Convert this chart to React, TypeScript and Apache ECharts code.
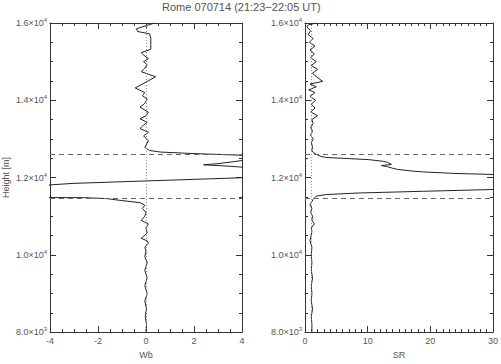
import React, { useEffect, useRef } from "react";
import * as echarts from "echarts";

const titleText = "Rome 070714 (21:23\u221222:05 UT)";

// Left panel: Wb profile (height [m], Wb)
const wbHeights = [
  16000, 15930, 15850, 15780, 15720, 15600, 15450, 15320, 15230, 15170, 15080, 15000,
  14920, 14830, 14740, 14610, 14470, 14320, 14200, 14120, 14030, 13920, 13820, 13690,
  13600, 13520, 13430, 13360, 13270, 13170, 13080, 12950, 12780, 12700, 12660, 12620,
  12580, 12560, 12500, 12440, 12360, 12330, 12300, 12270, 12230, 12100, 11995, 11850,
  11810, 11780, 11600, 11500, 11482, 11480, 11455, 11410, 11350, 11285, 11200, 11100,
  11000, 10890, 10800, 10700, 10560, 10430, 10360, 10300, 10200, 10100, 9950, 9800,
  9600, 9400, 9200, 9000, 8800, 8600, 8400, 8200, 8000,
];
const wbValues = [
  0.35, 0.0, -0.4, -0.35, 0.15, 0.2, 0.2, 0.2, -0.2, -0.1, 0.1, -0.1,
  0.05, -0.05, -0.2, 0.4, 0.0, -0.45, -0.05, -0.15, 0.05, -0.05, -0.25, 0.1,
  0.0, -0.25, 0.05, -0.1, -0.25, 0.1, -0.1, 0.1, -0.05, 0.15, 0.6, 2.0,
  3.9, 5.5, 6.0, 4.0, 3.0, 2.4, 3.3, 4.0, 5.0, 6.0, 4.0, -3.0,
  -4.0, -5.0, -5.5, -4.5, -4.2, -2.6, -1.64, -1.08, -0.25, -0.05, -0.15, 0.0,
  -0.05, -0.2, 0.1, 0.0, 0.05, -0.2, 0.05, 0.1, -0.05, 0.0, -0.05, 0.05,
  -0.05, 0.05, -0.05, 0.05, -0.05, 0.02, -0.03, 0.02, 0.0,
];

// Right panel: SR profile (height [m], SR)
const srHeights = [
  16000, 15950, 15900, 15800, 15700, 15600, 15500, 15400, 15300, 15200, 15100, 15000,
  14900, 14800, 14700, 14600, 14490, 14420, 14350, 14270, 14200, 14100, 14000, 13900,
  13800, 13700, 13600, 13500, 13400, 13300, 13200, 13100, 13000, 12900, 12800, 12700,
  12650, 12600, 12550, 12520, 12490, 12465, 12420, 12390, 12340, 12310, 12280, 12240,
  12210, 12170, 12145, 12105, 12080, 12050, 11700, 11690, 11645, 11600, 11560, 11520,
  11435, 11350, 11300, 11200, 11100, 11000, 10900, 10800, 10700, 10600, 10360, 10200,
  10000, 9800, 9600, 9400, 9200, 9000, 8800, 8600, 8400, 8200, 8000,
];
const srValues = [
  1.8, 0.5, 0.3, 0.9, 0.5, 1.3, 0.7, 1.6, 0.8, 1.5, 0.9, 1.8,
  1.0, 2.0, 1.2, 1.9, 2.8, 0.8, 1.8, 0.6, 1.6, 0.8, 1.7, 1.0,
  1.6, 0.9, 2.0, 1.1, 1.3, 0.9, 1.2, 0.9, 1.3, 1.0, 1.2, 1.1,
  1.3, 1.8, 2.5, 3.4, 7.0, 10.1, 12.5, 13.2, 13.8, 12.2, 13.2, 14.0,
  14.8, 17.0, 18.9, 24.1, 30.0, 35.0, 35.0, 30.0, 18.9, 8.5, 3.4, 1.8,
  1.3, 1.0, 0.8, 1.1, 0.9, 1.2, 1.1, 1.5, 1.0, 1.1, 0.8, 1.1,
  1.0, 1.1, 1.0, 1.2, 1.0, 1.1, 1.0, 1.2, 1.0, 1.1, 1.1,
];

const layerBounds = [12600, 11470];
const wbRef = 0;
const srRef = 1;

const FONT = "Liberation Sans, Arial, sans-serif";
const AXIS_COLOR = "#333";
const TEXT_COLOR = "#555";

function yLabel(v: number) {
  const exp = Math.floor(Math.log10(v));
  const m = (v / Math.pow(10, exp)).toFixed(1);
  return `{b|${m}\u00d710}{s|${exp}}`;
}

const yRich = {
  b: { fontSize: 9, color: TEXT_COLOR, fontFamily: FONT },
  s: { fontSize: 6, color: TEXT_COLOR, fontFamily: FONT, padding: [0, 0, 6, 0] },
};

function xAxisCfg(grid: number, min: number, max: number, interval: number, minorSplit: number, pos: string, name: string) {
  const isMain = pos === "bottom";
  return {
    type: "value",
    gridIndex: grid,
    position: pos,
    min,
    max,
    interval,
    name: isMain ? name : "",
    nameLocation: "middle",
    nameGap: 15,
    nameTextStyle: { fontSize: 9, color: TEXT_COLOR, fontFamily: FONT },
    axisLine: { show: true, onZero: false, lineStyle: { color: AXIS_COLOR, width: 1 } },
    axisTick: { show: true, inside: true, length: 6, lineStyle: { color: AXIS_COLOR } },
    minorTick: { show: true, splitNumber: minorSplit, length: 3, lineStyle: { color: AXIS_COLOR } },
    axisLabel: { show: isMain, fontSize: 9, color: TEXT_COLOR, fontFamily: FONT, margin: 4 },
    splitLine: { show: false },
    minorSplitLine: { show: false },
  };
}

function yAxisCfg(grid: number, pos: string, withName: boolean) {
  const isMain = pos === "left";
  return {
    type: "value",
    gridIndex: grid,
    position: pos,
    min: 8000,
    max: 16000,
    interval: 2000,
    name: withName ? "Height [m]" : "",
    nameLocation: "middle",
    nameGap: 40,
    nameRotate: 90,
    nameTextStyle: { fontSize: 9, color: TEXT_COLOR, fontFamily: FONT },
    axisLine: { show: true, onZero: false, lineStyle: { color: AXIS_COLOR, width: 1 } },
    axisTick: { show: true, inside: true, length: 6, lineStyle: { color: AXIS_COLOR } },
    minorTick: { show: true, splitNumber: 4, length: 3, lineStyle: { color: AXIS_COLOR } },
    axisLabel: { show: isMain, formatter: yLabel, rich: yRich, margin: 3 },
    splitLine: { show: false },
    minorSplitLine: { show: false },
  };
}

function markLineCfg(refAxis: "xAxis", refValue: number) {
  return {
    silent: true,
    symbol: "none",
    label: { show: false },
    animation: false,
    data: [
      { yAxis: layerBounds[0], lineStyle: { color: "#666", type: [5, 4], width: 1 } },
      { yAxis: layerBounds[1], lineStyle: { color: "#666", type: [5, 4], width: 1 } },
      { [refAxis]: refValue, lineStyle: { color: "#888", type: [1, 2], width: 1 } },
    ],
  };
}

export default function App() {
  const ref = useRef<HTMLDivElement>(null);
  useEffect(() => {
    if (!ref.current) return;
    const chart = echarts.init(ref.current, null, { renderer: "svg" });
    const wbData = wbHeights.map((h, i) => [wbValues[i], h]);
    const srData = srHeights.map((h, i) => [srValues[i], h]);
    chart.setOption({
      animation: false,
      backgroundColor: "#fff",
      textStyle: { fontFamily: FONT },
      title: {
        text: titleText,
        left: 162,
        top: 0,
        padding: [1, 0, 0, 0],
        textStyle: { fontSize: 11, fontWeight: "normal", color: TEXT_COLOR, fontFamily: FONT },
      },
      grid: [
        { left: 50, top: 23, width: 192, height: 319 },
        { left: 305, top: 23, width: 193, height: 319 },
      ],
      xAxis: [
        xAxisCfg(0, -4, 4, 2, 4, "bottom", "Wb"),
        xAxisCfg(0, -4, 4, 2, 4, "top", ""),
        xAxisCfg(1, 0, 30, 10, 10, "bottom", "SR"),
        xAxisCfg(1, 0, 30, 10, 10, "top", ""),
      ],
      yAxis: [
        yAxisCfg(0, "left", true),
        yAxisCfg(0, "right", false),
        yAxisCfg(1, "left", false),
        yAxisCfg(1, "right", false),
      ],
      series: [
        {
          type: "line",
          xAxisIndex: 0,
          yAxisIndex: 0,
          data: wbData,
          showSymbol: false,
          clip: true,
          lineStyle: { color: "#222", width: 1 },
          markLine: markLineCfg("xAxis", wbRef),
        },
        {
          type: "line",
          xAxisIndex: 2,
          yAxisIndex: 2,
          data: srData,
          showSymbol: false,
          clip: true,
          lineStyle: { color: "#222", width: 1 },
          markLine: markLineCfg("xAxis", srRef),
        },
      ],
    });
    return () => chart.dispose();
  }, []);
  return (
    <div
      ref={ref}
      style={{ position: "fixed", left: 0, top: 0, width: 501, height: 364 }}
    />
  );
}
